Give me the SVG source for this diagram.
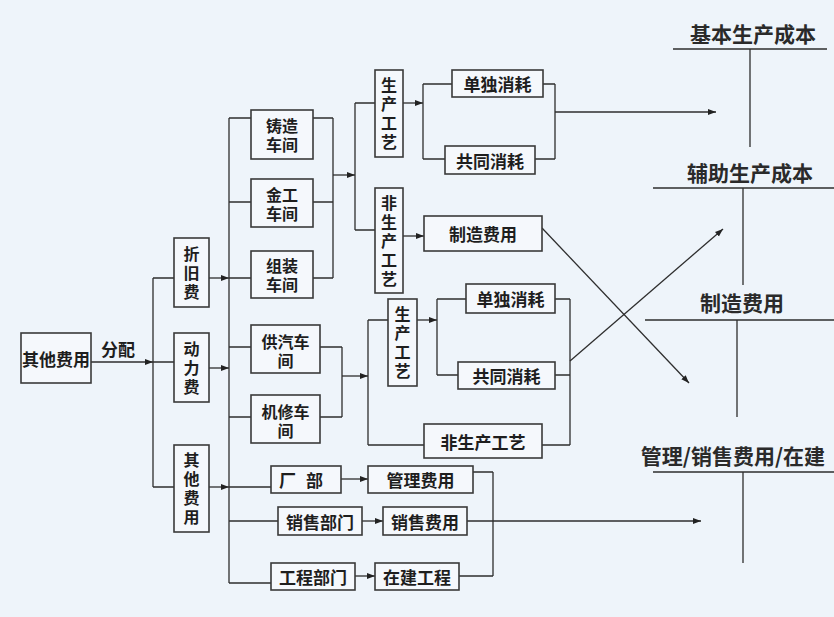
<svg xmlns="http://www.w3.org/2000/svg" width="834" height="617" viewBox="0 0 834 617">
<defs>
<marker id="ah" markerUnits="userSpaceOnUse" markerWidth="9" markerHeight="7" refX="8" refY="3.5" orient="auto">
<path d="M0,0.5 L8,3.5 L0,6.5 z" fill="#222"/>
</marker>
<style>
.bx{fill:#f5f8fc;stroke:#3a3a3a;stroke-width:1.6}
.t{font-family:"Noto Sans CJK SC","Noto Sans",sans-serif;font-weight:bold;font-size:17px;fill:#1e1e1e;text-anchor:middle;dominant-baseline:central}
.t2{font-family:"Noto Sans CJK SC","Noto Sans",sans-serif;font-weight:bold;font-size:16px;fill:#1e1e1e;text-anchor:middle;dominant-baseline:central}
.v{font-family:"Noto Sans CJK SC","Noto Sans",sans-serif;font-weight:bold;font-size:16px;fill:#1e1e1e;text-anchor:middle;writing-mode:vertical-rl;letter-spacing:3px}
.h{font-family:"Noto Sans CJK SC","Noto Sans",sans-serif;font-weight:bold;font-size:21px;fill:#2a2a2a;text-anchor:middle;dominant-baseline:central}
.c{fill:none;stroke:#2e2e2e;stroke-width:1.3}
.a{fill:none;stroke:#2e2e2e;stroke-width:1.3;marker-end:url(#ah)}
</style>
</defs>
<rect width="834" height="617" fill="#eef4fa"/>

<g id="connectors">
<path class="a" d="M91,362 H153"/>
<path class="c" d="M153,362 H174 M153,278 V487 M153,278 H174 M153,487 H174"/>
<path class="a" d="M209,278 H229"/>
<path class="a" d="M209,368 H229"/>
<path class="a" d="M209,487 H229"/>
<path class="c" d="M229,118 V583 M229,118 H251 M229,202 H251 M229,278 H251 M229,347 H251 M229,417 H251 M229,487 H271 M229,521 H278 M229,583 H271"/>
<path class="c" d="M313,118 H333 M313,202 H333 M313,278 H333 M333,118 V278"/>
<path class="a" d="M333,175 H355"/>
<path class="c" d="M355,103 V230 M355,103 H375 M355,230 H375"/>
<path class="a" d="M403,103 H423"/>
<path class="c" d="M423,84 V159 M423,84 H452 M423,159 H445"/>
<path class="c" d="M543,84 H555 M535,159 H555 M555,84 V159"/>
<path class="a" d="M555,112 H716"/>
<path class="a" d="M403,236 H424"/>
<path class="a" d="M542,228 L689,383"/>
<path class="c" d="M320,347 H342 M320,417 H342 M342,347 V417"/>
<path class="a" d="M342,376 H368"/>
<path class="c" d="M368,320 V445 M368,320 H388 M368,445 H424"/>
<path class="a" d="M417,320 H437"/>
<path class="c" d="M437,299 V375 M437,299 H466 M437,375 H458"/>
<path class="c" d="M555,299 H570 M555,375 H570 M542,445 H570 M570,299 V445"/>
<path class="a" d="M570,361 L723,229"/>
<path class="a" d="M341,479 H368"/>
<path class="a" d="M362,521 H383"/>
<path class="a" d="M355,576 H375"/>
<path class="c" d="M473,472 H493 M459,576 H493 M493,472 V576"/>
<path class="a" d="M467,521 H701"/>
</g>

<g id="n-qitafeiyong"><rect class="bx" x="21" y="333" width="70" height="50"/><text class="t" x="56" y="358">其他费用</text></g>
<text class="t" x="118" y="348">分配</text>

<g id="n-zhejiu"><rect class="bx" x="174" y="238" width="35" height="69"/><text class="v" x="191.5" y="274">折旧费</text></g>
<g id="n-dongli"><rect class="bx" x="174" y="333" width="35" height="69"/><text class="v" x="191.5" y="369">动力费</text></g>
<g id="n-qita2"><rect class="bx" x="174" y="445" width="35" height="87"/><text class="v" x="191.5" y="490">其他费用</text></g>

<g id="n-zhuzao"><rect class="bx" x="251" y="110" width="62" height="49"/><text class="t2"><tspan x="282" y="125">铸造</tspan><tspan x="282" y="144">车间</tspan></text></g>
<g id="n-jingong"><rect class="bx" x="251" y="179" width="62" height="48"/><text class="t2"><tspan x="282" y="194">金工</tspan><tspan x="282" y="213">车间</tspan></text></g>
<g id="n-zuzhuang"><rect class="bx" x="251" y="251" width="62" height="47"/><text class="t2"><tspan x="282" y="265">组装</tspan><tspan x="282" y="284">车间</tspan></text></g>
<g id="n-gongqi"><rect class="bx" x="251" y="325" width="69" height="48"/><text class="t2"><tspan x="285.5" y="341">供汽车</tspan><tspan x="285.5" y="360">间</tspan></text></g>
<g id="n-jixiu"><rect class="bx" x="251" y="395" width="69" height="48"/><text class="t2"><tspan x="285.5" y="411">机修车</tspan><tspan x="285.5" y="430">间</tspan></text></g>

<g id="n-shengchan1"><rect class="bx" x="375" y="70" width="28" height="87"/><text class="v" x="389" y="115">生产工艺</text></g>
<g id="n-feisheng1"><rect class="bx" x="375" y="188" width="28" height="105"/><text class="v" x="389" y="242">非生产工艺</text></g>
<g id="n-dandu1"><rect class="bx" x="452" y="70" width="91" height="27"/><text class="t" x="497.5" y="83.5">单独消耗</text></g>
<g id="n-gongtong1"><rect class="bx" x="445" y="146" width="90" height="28"/><text class="t" x="490" y="160">共同消耗</text></g>
<g id="n-zhizao"><rect class="bx" x="424" y="216" width="118" height="35"/><text class="t" x="483" y="233.5">制造费用</text></g>

<g id="n-shengchan2"><rect class="bx" x="388" y="299" width="29" height="87"/><text class="v" x="402.5" y="344">生产工艺</text></g>
<g id="n-dandu2"><rect class="bx" x="466" y="284" width="89" height="29"/><text class="t" x="510.5" y="298.5">单独消耗</text></g>
<g id="n-gongtong2"><rect class="bx" x="458" y="362" width="97" height="27"/><text class="t" x="506.5" y="375.5">共同消耗</text></g>
<g id="n-feisheng2"><rect class="bx" x="424" y="424" width="118" height="34"/><text class="t" x="483" y="441">非生产工艺</text></g>

<g id="n-changbu"><rect class="bx" x="271" y="466" width="70" height="27"/><text class="t" x="306" y="479.5" letter-spacing="10">厂部</text></g>
<g id="n-guanli"><rect class="bx" x="368" y="466" width="105" height="27"/><text class="t" x="420.5" y="479.5">管理费用</text></g>
<g id="n-xiaoshoubm"><rect class="bx" x="278" y="507" width="84" height="28"/><text class="t" x="320" y="521">销售部门</text></g>
<g id="n-xiaoshoufy"><rect class="bx" x="383" y="507" width="84" height="28"/><text class="t" x="425" y="521">销售费用</text></g>
<g id="n-gongcheng"><rect class="bx" x="271" y="563" width="84" height="27"/><text class="t" x="313" y="576.5">工程部门</text></g>
<g id="n-zaijian"><rect class="bx" x="375" y="563" width="84" height="27"/><text class="t" x="417" y="576.5">在建工程</text></g>

<g id="n-jiben"><text class="h" x="753" y="33">基本生产成本</text><path class="c" d="M673,49 H827 M750,49 V147"/></g>
<g id="n-fuzhu"><text class="h" x="750" y="172">辅助生产成本</text><path class="c" d="M653,188 H834 M743,188 V285"/></g>
<g id="n-zhizaofy"><text class="h" x="742" y="302">制造费用</text><path class="c" d="M645,320 H834 M737,320 V417"/></g>
<g id="n-guanlixs"><text class="h" x="733" y="455">管理/销售费用/在建</text><path class="c" d="M653,472 H834 M743,472 V563"/></g>
</svg>
